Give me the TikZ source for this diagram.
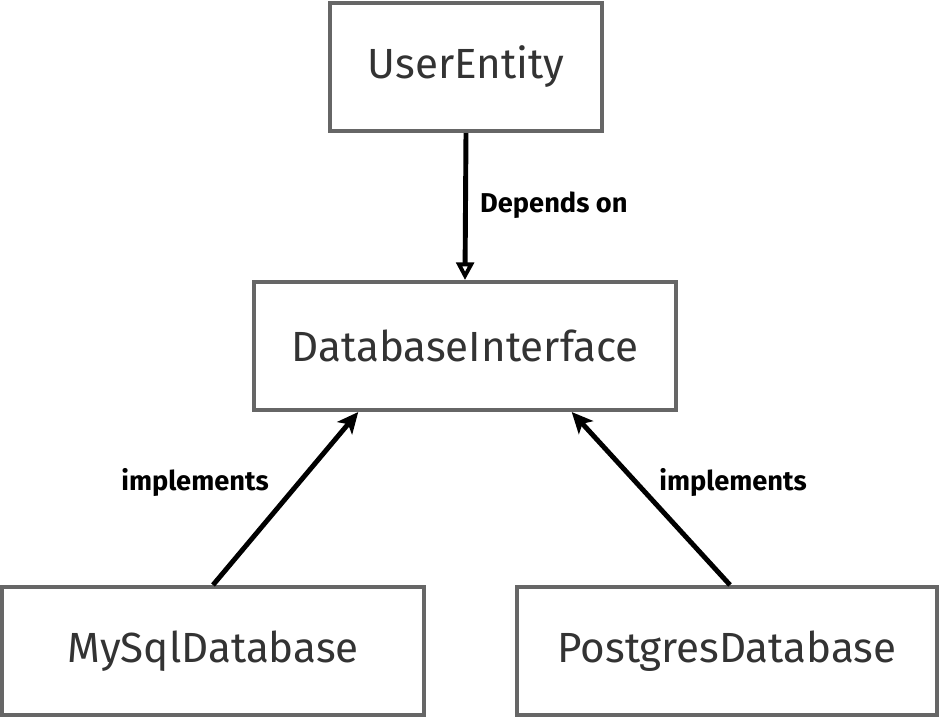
\documentclass[tikz,border=0pt]{standalone}
\usepackage{fontspec}
\setmainfont{Fira Sans}
\usetikzlibrary{arrows.meta, positioning, calc}

\definecolor{boxgray}{HTML}{666666}
\definecolor{textgray}{HTML}{333333}

\tikzset{
    classbox/.style={draw=boxgray, line width=2.3pt, fill=white, text=textgray,
        minimum height=2.56cm, font=\fontsize{24}{28}\selectfont},
    relarrow/.style={line width=2.8pt, black},
    rellabel/.style={font=\fontsize{15.5}{18}\selectfont\bfseries, text=black}
}

\begin{document}
\begin{tikzpicture}[x=0.02cm, y=-0.02cm]
\useasboundingbox (0,0) rectangle (941,718);

% Classes
\node[classbox, minimum width=5.44cm] (user) at (466,67) {UserEntity};
\node[classbox, minimum width=8.46cm] (dbiface) at (465,346) {DatabaseInterface};
\node[classbox, minimum width=8.46cm] (mysql) at (213,651) {MySqlDatabase};
\node[classbox, minimum width=8.42cm] (postgres) at (727,651) {PostgresDatabase};

% Dependency
\draw[relarrow, -{Triangle[open, length=10pt, width=10pt, line width=2.2pt]}]
    (user.south) -- (dbiface.north);
\node[rellabel, anchor=west] (dependslbl) at (474,205) {Depends on};

% Implementations
\coordinate (ifaceleft) at ($(dbiface.south west)!0.25!(dbiface.south east)$);
\coordinate (ifaceright) at ($(dbiface.south west)!0.75!(dbiface.south east)$);
\draw[relarrow, -{Stealth[length=12pt, width=11pt, inset=3pt]}]
    (mysql.north) -- (ifaceleft);
\draw[relarrow, -{Stealth[length=12pt, width=11pt, inset=3pt]}]
    ($(postgres.north)+(3,0)$) -- (ifaceright);
\node[rellabel] (mysqllbl) at (195,482) {implements};
\node[rellabel] (postgreslbl) at (733,482) {implements};
\end{tikzpicture}
\end{document}
